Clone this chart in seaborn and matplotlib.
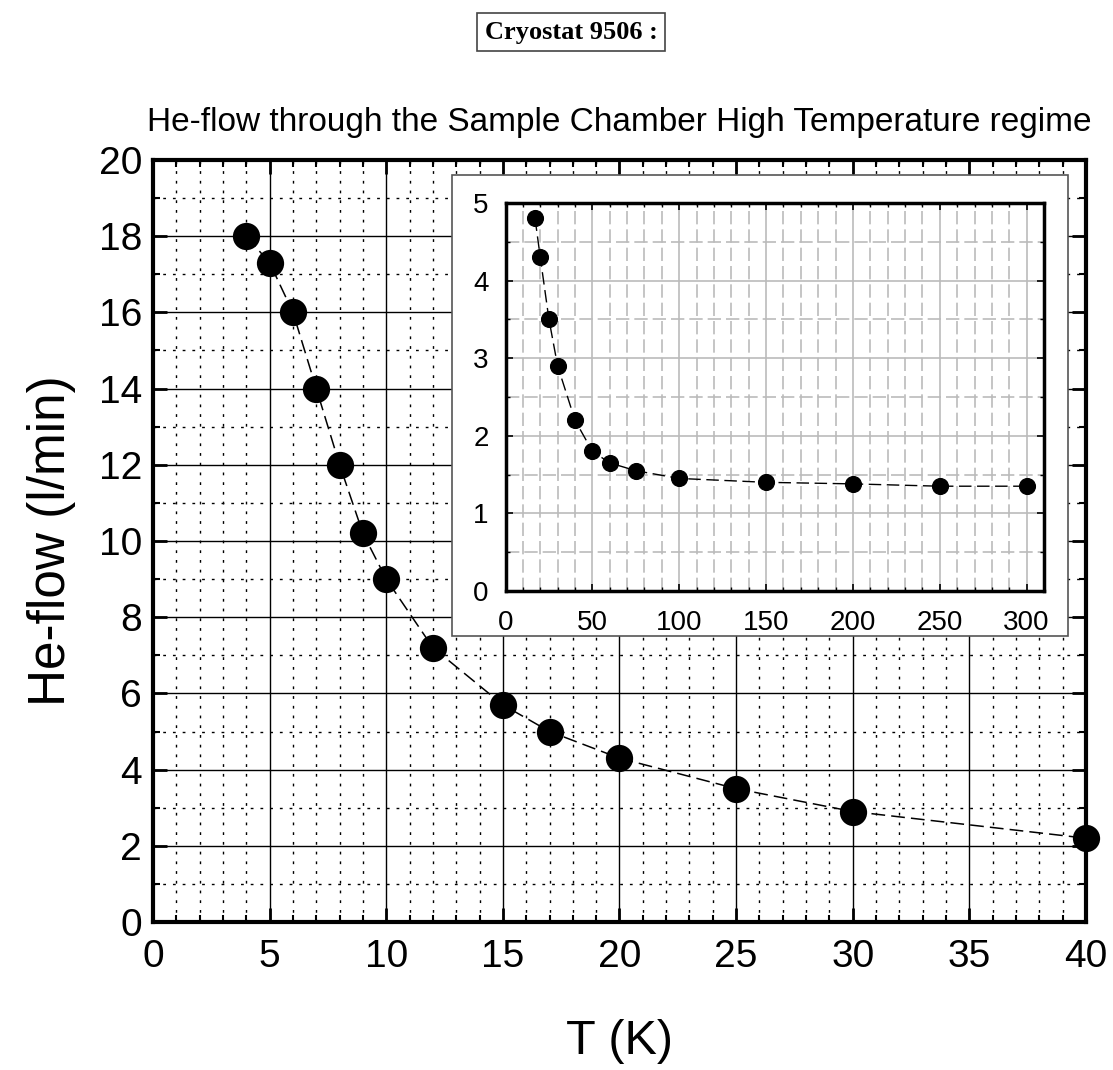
import numpy as np
import pandas as pd
import matplotlib
matplotlib.use("Agg")
import matplotlib.pyplot as plt
from matplotlib.patches import Rectangle
from matplotlib.ticker import MultipleLocator
import seaborn as sns

# Main data
temp_main = [4, 5, 6, 7, 8, 9, 10, 12, 15, 17, 20, 25, 30, 40]
flow_main = [18, 17.3, 16, 14, 12, 10.2, 9, 7.2, 5.7, 5.0, 4.3, 3.5, 2.9, 2.2]
# Inset data
temp_inset = [17, 20, 25, 30, 40, 50, 60, 75, 100, 150, 200, 250, 300]
flow_inset = [4.8, 4.3, 3.5, 2.9, 2.2, 1.8, 1.65, 1.55, 1.45, 1.4, 1.38, 1.35, 1.35]

title_text = "Cryostat 9506 :"
subtitle_text = "He-flow through the Sample Chamber High Temperature regime"
xlabel_text = "T (K)"
ylabel_text = "He-flow (l/min)"

sns.set_theme(style="white")
plt.rcParams['font.family'] = ['Liberation Sans', 'DejaVu Sans']
plt.rcParams['text.color'] = 'black'
plt.rcParams['axes.labelcolor'] = 'black'
plt.rcParams['xtick.color'] = 'black'
plt.rcParams['ytick.color'] = 'black'

fig = plt.figure(figsize=(11.13, 10.70), dpi=100)
ax = fig.add_axes([0.1375, 0.1383, 0.8382, 0.7122])
ax.set_zorder(1)

df_main = pd.DataFrame({"T": temp_main, "F": flow_main})
sns.lineplot(data=df_main, x="T", y="F", ax=ax, color="black", lw=1.1,
             linestyle=(0, (9, 4)), zorder=4)
sns.scatterplot(data=df_main, x="T", y="F", ax=ax, color="black", s=330,
                edgecolor="black", zorder=5, clip_on=False)

ax.set_xlim(0, 40)
ax.set_ylim(0, 20)
ax.xaxis.set_major_locator(MultipleLocator(5))
ax.xaxis.set_minor_locator(MultipleLocator(1))
ax.yaxis.set_major_locator(MultipleLocator(2))
ax.yaxis.set_minor_locator(MultipleLocator(1))
ax.grid(which="major", color="black", lw=1.0, ls="-")
ax.grid(which="minor", color="black", lw=1.0, ls=(0, (2, 5)))
ax.set_axisbelow(True)
ax.tick_params(which="both", direction="in", top=True, right=True,
               bottom=True, left=True, colors="black")
ax.tick_params(which="major", length=10, width=2, labelsize=28)
ax.tick_params(axis="x", which="major", pad=12)
ax.tick_params(axis="y", which="major", pad=8)
ax.tick_params(which="minor", length=5, width=1.5)
for s in ax.spines.values():
    s.set_linewidth(3)
    s.set_color("black")
ax.set_xlabel(xlabel_text, fontsize=35, labelpad=32)
ax.set_ylabel(ylabel_text, fontsize=37, labelpad=16)
ax.set_title(subtitle_text, fontsize=24, pad=21, color="black")

# Inset background box
bg = Rectangle((452 / 1113, 1 - 636 / 1070), (1068 - 452) / 1113, (636 - 175) / 1070,
               transform=fig.transFigure, facecolor="white", edgecolor="#555555",
               lw=1.2, zorder=2)
fig.patches.append(bg)

axi = fig.add_axes([0.4542, 0.4477, 0.4838, 0.3626])
axi.set_zorder(3)
df_in = pd.DataFrame({"T": temp_inset, "F": flow_inset})
sns.lineplot(data=df_in, x="T", y="F", ax=axi, color="black", lw=1.0,
             linestyle=(0, (9, 4)), zorder=4)
sns.scatterplot(data=df_in, x="T", y="F", ax=axi, color="black", s=130,
                edgecolor="black", zorder=5)
axi.set_xlim(0, 310)
axi.set_ylim(0, 5)
axi.xaxis.set_major_locator(MultipleLocator(50))
axi.xaxis.set_minor_locator(MultipleLocator(10))
axi.yaxis.set_major_locator(MultipleLocator(1))
axi.yaxis.set_minor_locator(MultipleLocator(0.5))
axi.grid(which="major", color="#bbbbbb", lw=1.2, ls="-")
axi.grid(which="minor", color="#bbbbbb", lw=1.2, ls=(0, (8, 3)))
axi.set_axisbelow(True)
axi.tick_params(which="both", direction="in", top=True, right=True,
                bottom=True, left=True, colors="black")
axi.tick_params(which="major", length=5, width=1.2, labelsize=20)
axi.tick_params(axis="x", which="major", pad=14)
axi.tick_params(axis="y", which="major", pad=12)
axi.tick_params(which="minor", length=3, width=1)
for s in axi.spines.values():
    s.set_linewidth(2.5)
    s.set_color("black")
axi.set_xlabel("")
axi.set_ylabel("")

# Title box
fig.text(571 / 1113, 1 - 32 / 1070, title_text, ha="center", va="center",
         fontsize=19, fontweight="bold", family=["Liberation Serif", "DejaVu Serif"],
         bbox=dict(boxstyle="square,pad=0.3", facecolor="white",
                   edgecolor="#444444", lw=1.2))

fig.savefig("out.png", dpi=100, facecolor="white")
